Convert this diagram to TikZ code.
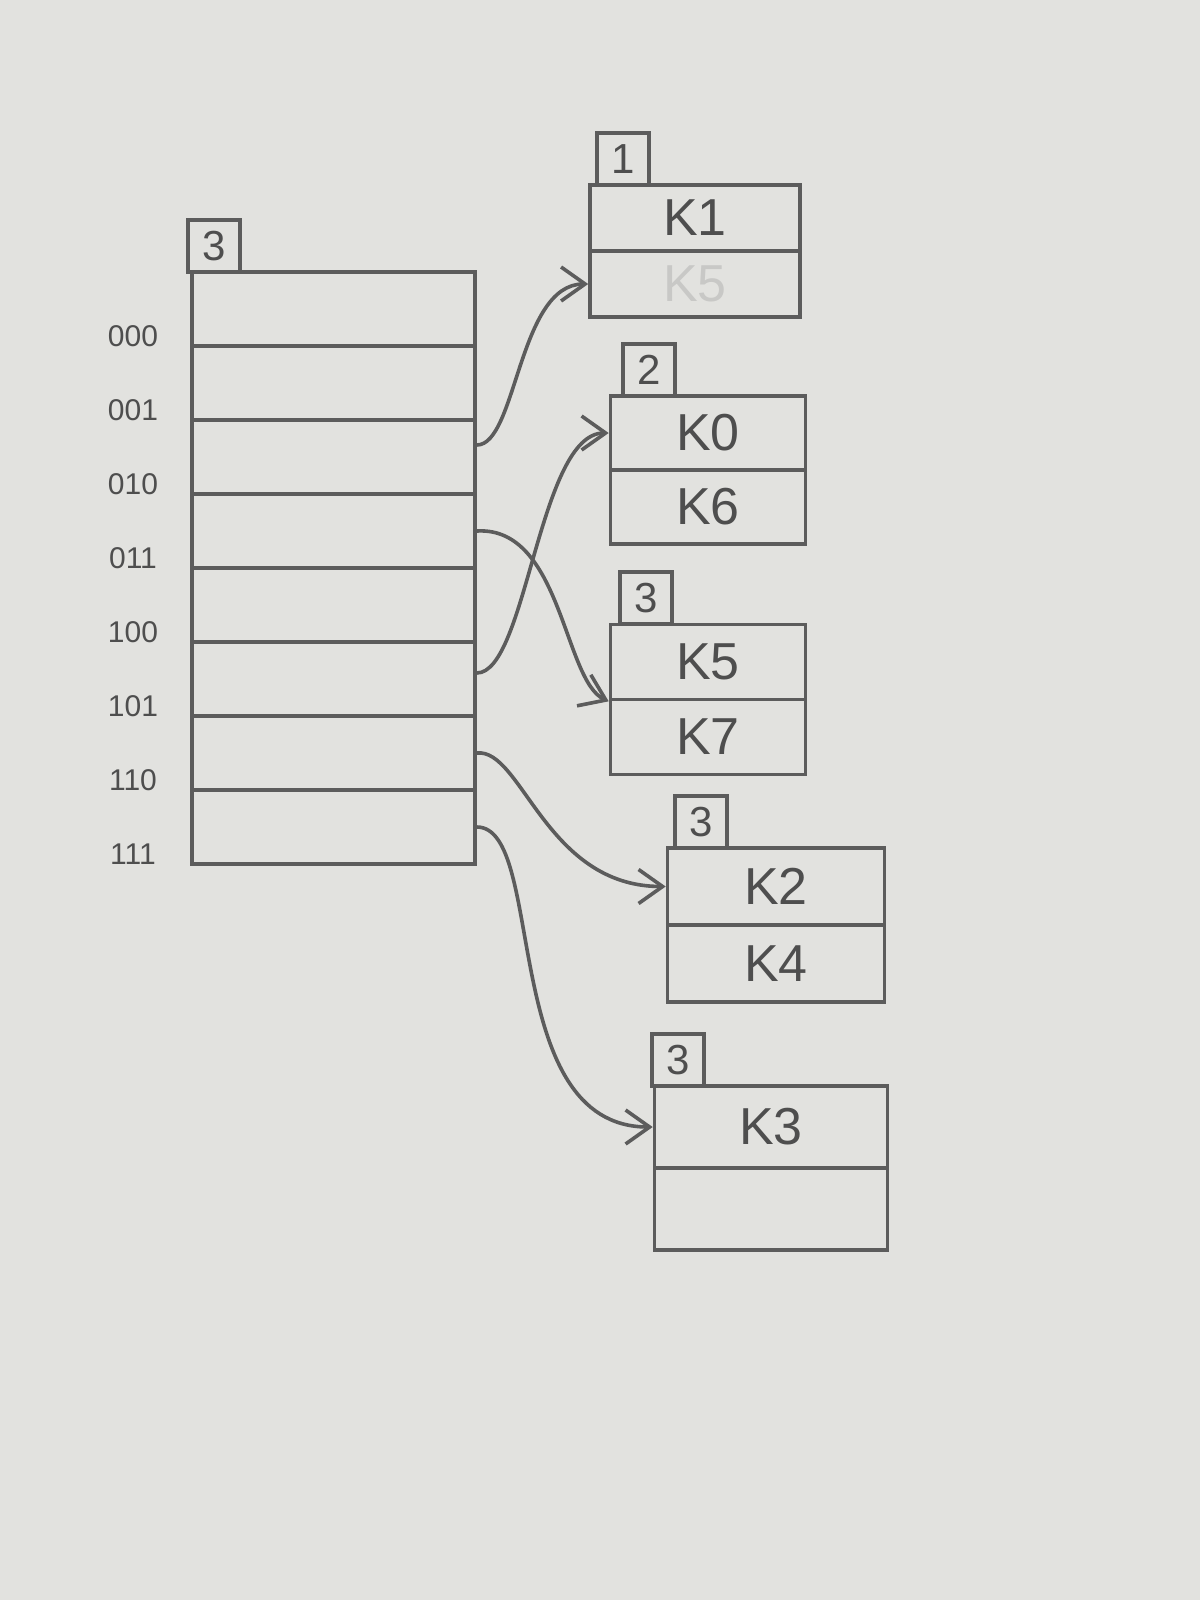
\documentclass[tikz,border=0pt]{standalone}
\usepackage{fontspec}
\setmainfont{Liberation Sans}
\usetikzlibrary{arrows.meta}
\definecolor{pencil}{RGB}{92,92,92}
\definecolor{pencilink}{RGB}{78,78,78}
\definecolor{paper}{RGB}{226,226,223}
\definecolor{erased}{RGB}{200,200,198}
\begin{document}
\begin{tikzpicture}[x=0.5pt,y=0.5pt,color=pencil,line width=1.8pt,
  cell/.style={draw=pencil,minimum width=141.5pt,minimum height=37pt,inner sep=0pt},
  slot/.style={draw=pencil,inner sep=0pt,text=pencilink,font=\fontsize{26}{28}\selectfont},
  depth/.style={draw=pencil,minimum width=26pt,minimum height=26pt,inner sep=0pt,text=pencilink,font=\fontsize{21}{23}\selectfont},
  lbl/.style={text=pencilink,font=\fontsize{15}{17}\selectfont},
  ptr/.style={draw=pencil,line width=1.8pt,line cap=round,-{Straight Barb[length=12pt,width=17pt,line width=1.8pt]}}]
\fill[paper] (0,0) rectangle (1200,-1600);
\useasboundingbox (0,0) rectangle (1200,-1600);

% directory
\foreach \i/\b in {0/000,1/001,2/010,3/011,4/100,5/101,6/110,7/111}{
  \node[cell] (d\i) at (333.5,{-309-74*\i}) {};
  \node[lbl] (l\i) at (133,{-336-74*\i}) {\b};
}
\node[depth] (gd) at (214,-246) {3};

% bucket 1
\node[slot,minimum width=105pt,minimum height=33pt] (b1t) at (695,-218) {K1};
\node[slot,minimum width=105pt,minimum height=33pt,text=erased] (b1b) at (695,-284) {K5};
\node[depth] (ld1) at (623,-159) {1};

% bucket 2
\node[slot,minimum width=97.5pt,minimum height=37pt] (b2t) at (708,-433) {K0};
\node[slot,minimum width=97.5pt,minimum height=37pt] (b2b) at (708,-507) {K6};
\node[depth] (ld2) at (649,-370) {2};

% bucket 3
\node[slot,minimum width=97.5pt,minimum height=37.5pt] (b3t) at (708,-662) {K5};
\node[slot,minimum width=97.5pt,minimum height=37.5pt] (b3b) at (708,-737) {K7};
\node[depth] (ld3) at (646,-598) {3};

% bucket 4
\node[slot,minimum width=108.5pt,minimum height=38.5pt] (b4t) at (776,-886.5) {K2};
\node[slot,minimum width=108.5pt,minimum height=38.5pt] (b4b) at (776,-963.5) {K4};
\node[depth] (ld4) at (701,-822) {3};

% bucket 5
\node[slot,minimum width=116.5pt,minimum height=41pt] (b5t) at (771,-1127) {K3};
\node[slot,minimum width=116.5pt,minimum height=41pt] (b5b) at (771,-1209) {};
\node[depth] (ld5) at (678,-1060) {3};

% pointers
\draw[ptr] ([yshift=6pt]d2.east) .. controls +(40,0) and +(-70,0) .. (b1b.west);
\draw[ptr] ([yshift=3pt]d5.east) .. controls +(50,0) and +(-70,0) .. (b2t.west);
\draw[ptr] (d3.east) .. controls +(85,5) and +(-45,20) .. (b3t.south west);
\draw[ptr] (d6.east) .. controls +(45,5) and +(-120,0) .. (b4t.west);
\draw[ptr] (d7.east) .. controls +(70,0) and +(-155,0) .. (b5t.west);
\end{tikzpicture}
\end{document}
